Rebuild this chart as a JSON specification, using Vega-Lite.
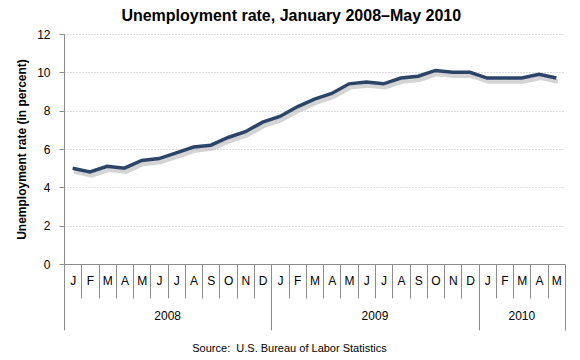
{
  "$schema": "https://vega.github.io/schema/vega-lite/v6.json",
  "width": 501,
  "height": 230,
  "autosize": "none",
  "padding": {"left": 64, "top": 34, "right": 15, "bottom": 96},
  "title": {
    "text": "Unemployment rate, January 2008–May 2010",
    "font": "Liberation Sans",
    "fontSize": 16,
    "fontWeight": "bold",
    "color": "#000000",
    "anchor": "middle",
    "frame": "bounds",
    "offset": 4
  },
  "config": {
    "font": "Liberation Sans",
    "view": {"stroke": null},
    "axis": {
      "domainColor": "#8c8c8c",
      "tickColor": "#8c8c8c",
      "labelColor": "#000000",
      "labelFontSize": 12,
      "labelFont": "Liberation Sans",
      "titleFont": "Liberation Sans",
      "titleColor": "#000000"
    },
    "axisY": {
      "titleFontSize": 12,
      "titleFontWeight": "bold",
      "titlePadding": 8,
      "tickSize": 5,
      "labelPadding": 9,
      "grid": true,
      "gridColor": "#bdbdbd",
      "gridDash": [1, 2],
      "gridWidth": 1
    }
  },
  "datasets": {
    "rates": [
      {"m": "2008-01", "rate": 5.0}, {"m": "2008-02", "rate": 4.8}, {"m": "2008-03", "rate": 5.1},
      {"m": "2008-04", "rate": 5.0}, {"m": "2008-05", "rate": 5.4}, {"m": "2008-06", "rate": 5.5},
      {"m": "2008-07", "rate": 5.8}, {"m": "2008-08", "rate": 6.1}, {"m": "2008-09", "rate": 6.2},
      {"m": "2008-10", "rate": 6.6}, {"m": "2008-11", "rate": 6.9}, {"m": "2008-12", "rate": 7.4},
      {"m": "2009-01", "rate": 7.7}, {"m": "2009-02", "rate": 8.2}, {"m": "2009-03", "rate": 8.6},
      {"m": "2009-04", "rate": 8.9}, {"m": "2009-05", "rate": 9.4}, {"m": "2009-06", "rate": 9.5},
      {"m": "2009-07", "rate": 9.4}, {"m": "2009-08", "rate": 9.7}, {"m": "2009-09", "rate": 9.8},
      {"m": "2009-10", "rate": 10.1}, {"m": "2009-11", "rate": 10.0}, {"m": "2009-12", "rate": 10.0},
      {"m": "2010-01", "rate": 9.7}, {"m": "2010-02", "rate": 9.7}, {"m": "2010-03", "rate": 9.7},
      {"m": "2010-04", "rate": 9.9}, {"m": "2010-05", "rate": 9.7}
    ],
    "years": [
      {"year": "2008", "m": "2008-07"},
      {"year": "2009", "m": "2009-07"},
      {"year": "2010", "m": "2010-03"}
    ]
  },
  "layer": [
    {
      "data": {"name": "rates"},
      "mark": {"type": "line", "color": "#b0b0b0", "strokeWidth": 4.5, "opacity": 0.55, "yOffset": 3.5, "xOffset": 1.5},
      "encoding": {
        "x": {
          "field": "m",
          "type": "ordinal",
          "bandPosition": 0.5,
          "scale": {"type": "band", "paddingInner": 0, "paddingOuter": 0},
          "axis": {
            "title": "Source:\u00a0 U.S. Bureau of Labor Statistics",
            "titleFontSize": 11,
            "titleFontWeight": "normal",
            "titlePadding": 12,
            "titleX": 225,
            "tickBand": "extent",
            "tickSize": {"condition": {"test": "datum.extra || (isString(datum.value) && (slice(datum.value, 5) == '12' || datum.value == '2010-05'))", "value": 66}, "value": 34},
            "labelPadding": {"condition": {"test": "datum.extra || (isString(datum.value) && (slice(datum.value, 5) == '12' || datum.value == '2010-05'))", "value": -55}, "value": -23},
            "labelAngle": 0,
            "labelFlush": false,
            "labelOverlap": false,
            "labelExpr": "isString(datum.value) ? substring('JFMAMJJASOND', toNumber(slice(datum.value, 5)) - 1, toNumber(slice(datum.value, 5))) : ''",
            "grid": false
          }
        },
        "y": {
          "field": "rate",
          "type": "quantitative",
          "scale": {"domain": [0, 12]},
          "axis": {"title": "Unemployment rate (in percent)", "values": [0, 2, 4, 6, 8, 10, 12], "tickCount": 7, "labelOverlap": false}
        }
      }
    },
    {
      "data": {"name": "rates"},
      "mark": {"type": "line", "color": "#2b4468", "strokeWidth": 3.5},
      "encoding": {
        "x": {"field": "m", "type": "ordinal", "bandPosition": 0.5},
        "y": {
          "field": "rate",
          "type": "quantitative",
          "axis": {"title": "Unemployment rate (in percent)", "values": [0, 2, 4, 6, 8, 10, 12], "tickCount": 7, "labelOverlap": false}
        }
      }
    },
    {
      "data": {"name": "years"},
      "transform": [{"filter": "datum.year != '2010'"}],
      "mark": {"type": "text", "fontSize": 12, "baseline": "middle", "color": "#000000"},
      "encoding": {
        "x": {"field": "m", "type": "ordinal", "bandPosition": 0},
        "y": {
          "datum": -2.7,
          "type": "quantitative",
          "axis": {"title": "Unemployment rate (in percent)", "values": [0, 2, 4, 6, 8, 10, 12], "tickCount": 7, "labelOverlap": false}
        },
        "text": {"field": "year"}
      }
    },
    {
      "data": {"name": "years"},
      "transform": [{"filter": "datum.year == '2010'"}],
      "mark": {"type": "text", "fontSize": 12, "baseline": "middle", "color": "#000000"},
      "encoding": {
        "x": {"field": "m", "type": "ordinal", "bandPosition": 0.5},
        "y": {
          "datum": -2.7,
          "type": "quantitative",
          "axis": {"title": "Unemployment rate (in percent)", "values": [0, 2, 4, 6, 8, 10, 12], "tickCount": 7, "labelOverlap": false}
        },
        "text": {"field": "year"}
      }
    }
  ]
}
